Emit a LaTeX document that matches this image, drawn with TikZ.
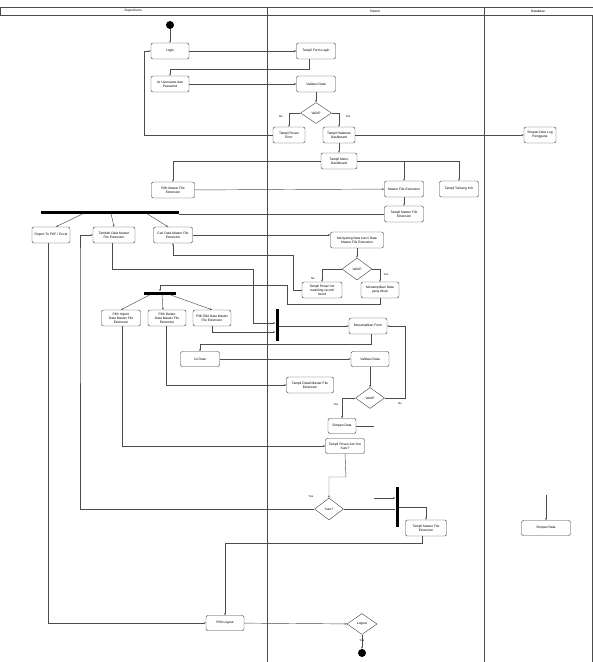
\documentclass[tikz,border=0pt]{standalone}
\usepackage{fontspec}
\setmainfont{Liberation Sans}
\usetikzlibrary{shapes.geometric,arrows.meta}
\begin{document}
\begin{tikzpicture}[x=1pt,y=-1pt,
  every node/.style={font=\fontsize{3.3}{3.9}\selectfont,inner sep=0pt},
  act/.style={draw=black!75,rounded corners=2pt,line width=0.45pt,align=center,fill=white},
  dec/.style={draw=black!75,diamond,aspect=1.45,line width=0.4pt,align=center,fill=white},
  bar/.style={fill=black,draw=none,rectangle},
  ln/.style={draw=black!70,line width=0.45pt},
  arr/.style={ln,-{Stealth[length=2.2pt,width=1.8pt]}},
  lbl/.style={font=\fontsize{2.8}{3.2}\selectfont},
  lane/.style={draw=black!70,line width=0.7pt}]
\useasboundingbox (0,0) rectangle (593,662);
% lanes
\draw[lane,fill=white] (0,7) rectangle (593,15);
\draw[lane] (267,15) -- (267,662);
\draw[lane] (484,7) -- (484,662);
\draw[lane] (267,7) -- (267,15);
\draw[lane] (592.6,15) -- (592.6,662);
\node (h1) at (133,11) {Supervisors};
\node (h2) at (375,11) {Sistem};
\node (h3) at (538,11) {Database};
% nodes
\node[circle,fill=black,minimum size=8pt] (start) at (170,25) {};
\node[act,minimum width=38pt,minimum height=16pt] (login) at (170,51) {Login};
\node[act,minimum width=38pt,minimum height=16pt] (isi) at (170,84) {Isi Username dan\\Password};
\node[act,minimum width=39pt,minimum height=16pt] (formlogin) at (316,51) {Tampil Form Login};
\node[act,minimum width=39pt,minimum height=16pt] (valid1) at (316,84) {Validasi Data};
\node[dec,minimum width=31pt,minimum height=21pt] (d1) at (316,113) {Valid?};
\node[act,minimum width=32pt,minimum height=16pt] (err) at (289,135) {Tampil Pesan\\Error};
\node[act,minimum width=32pt,minimum height=16pt] (dash) at (339,135) {Tampil Halaman\\Dashboard};
\node[act,minimum width=32pt,minimum height=16pt] (log) at (540,135) {Simpan Data Log\\Pengguna};
\node[act,minimum width=36pt,minimum height=16pt] (menu) at (339,161) {Tampil Menu\\Dashboard};
\node[act,minimum width=43pt,minimum height=16pt] (pilihmf) at (173,190) {Pilih Master File\\Extension};
\node[act,minimum width=39pt,minimum height=16pt] (mfe) at (404,189) {Master File Extension};
\node[act,minimum width=39pt,minimum height=16pt] (info) at (459,189) {Tampil Tentang Info};
\node[act,minimum width=39pt,minimum height=16pt] (tmfe) at (404,214) {Tampil Master File\\Extension};
\node[bar,minimum width=138pt,minimum height=3pt] (fork1) at (110,212) {};
\node[act,minimum width=38pt,minimum height=16pt] (report) at (51,235) {Report To PDF / Excel};
\node[act,minimum width=42pt,minimum height=16pt] (tambah) at (114,235) {Tambah Data Master\\File Extension};
\node[act,minimum width=39pt,minimum height=16pt] (cari) at (173,235) {Cari Data Master File\\Extension};
\node[act,minimum width=53pt,minimum height=16pt] (nyaring) at (357,240) {Menyaring Kata kunci Data\\Master File Extension};
\node[dec,minimum width=30pt,minimum height=22pt] (d2) at (357,269) {Valid?};
\node[act,minimum width=40pt,minimum height=16pt] (nomatch) at (322,290) {Tampil Pesan No\\matching record\\found};
\node[act,minimum width=38pt,minimum height=16pt] (found) at (380,290) {Menampilkan Data\\yang dicari};
\node[bar,minimum width=32pt,minimum height=3pt] (fork2) at (160,293) {};
\node[act,minimum width=39pt,minimum height=16pt] (import) at (121,318) {Pilih Import\\Data Master File\\Extension};
\node[act,minimum width=38pt,minimum height=16pt] (delete) at (167,318) {Pilih Delete\\Data Master File\\Extension};
\node[act,minimum width=38pt,minimum height=16pt] (edit) at (212,318) {Pilih Edit Data Master\\File Extension};
\node[bar,minimum width=3pt,minimum height=32pt] (join1) at (277,325) {};
\node[act,minimum width=38pt,minimum height=16pt] (form) at (368,326) {Menampilkan Form};
\node[act,minimum width=39pt,minimum height=15pt] (isidata) at (200,359) {Isi Data};
\node[act,minimum width=38pt,minimum height=15pt] (valid2) at (370,359) {Validasi Data};
\node[act,minimum width=47pt,minimum height=16pt] (detail) at (310,385) {Tampil Detail Master File\\Extension};
\node[dec,minimum width=29pt,minimum height=21pt] (d3) at (370,398) {Valid?};
\node[act,minimum width=28pt,minimum height=15pt] (simpan) at (342,426) {Simpan Data};
\node[act,minimum width=39pt,minimum height=15pt] (sure) at (345,446) {Tampil Pesan Are You\\Sure?};
\node[dec,minimum width=29pt,minimum height=22pt] (d4) at (329,509) {Sure?};
\node[bar,minimum width=3pt,minimum height=40pt] (join2) at (397,507) {};
\node[act,minimum width=41pt,minimum height=16pt] (tmfe2) at (426,528) {Tampil Master File\\Extension};
\node[act,minimum width=49pt,minimum height=15pt] (simpandb) at (546,528) {Simpan Data};
\node[act,minimum width=38pt,minimum height=15pt] (logout) at (225,623) {Pilih Logout};
\node[dec,minimum width=30pt,minimum height=21pt] (d5) at (362,624) {Logout};
\node[circle,fill=black,minimum size=8pt] (end) at (362,653) {};
\coordinate (c1) at (374,498);
\coordinate (c2) at (546,495);
\coordinate (c3) at (374,426);
% connectors
\draw[arr] (start) -- (login);
\draw[arr] (login) -- (formlogin);
\draw[arr] ([xshift=-7pt]formlogin.south) -- ++(0,10) -| (isi.north);
\draw[arr] (isi) -- (valid1);
\draw[arr] (valid1) -- (d1);
\draw[arr] (d1.west) -| (err.north);
\node[lbl] (lno1) at (281,117) {No};
\draw[arr] (d1.east) -| (dash.north);
\node[lbl] (lyes1) at (348,117) {Yes};
\draw[ln] (err.west) -- (144,135) coordinate (e1);
\draw[arr] (e1) |- (login.west);
\draw[arr] (dash) -- (log);
\draw[arr] (dash) -- (menu);
\draw[arr] (menu.west) -| (pilihmf.north);
\draw[arr] (menu.east) -| (info.north);
\draw[arr] (menu.east -| mfe.north) -- (mfe.north);
\draw[arr] (pilihmf) -- (mfe);
\draw[arr] (mfe) -- (tmfe);
\draw[ln] (tmfe.west) -- (tmfe.west -| fork1.east);
\draw[arr] ([xshift=-27pt]fork1.south) -- ([xshift=5pt]report.north);
\draw[arr] ([xshift=1pt]fork1.south) -- (tambah.north);
\draw[arr] ([xshift=37pt]fork1.south) -- ([xshift=-5pt]cari.north);
\draw[arr] (cari.east) -- (cari.east -| nyaring.west);
\draw[arr] (nyaring) -- (d2);
\draw[arr] (d2.west) -| (nomatch.north);
\node[lbl] (lno2) at (313,279) {No};
\draw[arr] (d2.east) -| (found.north);
\node[lbl] (lyes2) at (386,275) {Yes};
\draw[arr] (nomatch.west) -- (293,290) |- (173,255) -- (cari.south);
\draw[arr] (found.south) -- (380,304) -- (287,304) -- (287,285) -| (fork2.north);
\draw[arr] ([xshift=-10pt]fork2.south) -- (import.north);
\draw[arr] ([xshift=2pt]fork2.south) -- ([xshift=-4pt]delete.north);
\draw[arr] ([xshift=10pt]fork2.south) -- (edit.north);
\draw[arr] ([xshift=-2pt]tambah.south) -- (112,269) -- (253,269) |- ([yshift=2pt]join1.west);
\draw[arr] (edit.south) |- ([yshift=-7pt]join1.west);
\draw[arr] ([yshift=-1pt]join1.east) -- ([yshift=-1pt]join1.east -| form.west);
\draw[arr] ([xshift=3pt]form.south) -- ++(0,10) -| (isidata.north);
\draw[arr] (isidata) -- (valid2);
\draw[arr] ([xshift=-1pt]delete.south) |- (detail.west);
\draw[arr] (valid2) -- (d3);
\draw[arr] (d3.east) -- (405,398) |- (form.east);
\node[lbl] (lno3) at (400,404) {No};
\draw[arr] (d3.west) -| (simpan.north);
\node[lbl] (lyes3) at (336,405) {Yes};
\draw[ln] (simpan.east) -- (c3);
\draw[arr] ([xshift=1pt]import.south) |- (sure.west);
\draw[arr] (sure.south) -- (346,477) -| (d4.north);
\draw[arr] (d4.west) -| (80,260) |- (tambah.west);
\node[lbl] (lyes4) at (311,497) {Yes};
\draw[ln] (d4.east) -- (d4.east -| join2.west);
\draw[arr] (c1) -- (c1 -| join2.west);
\draw[arr] (join2.east) -| (tmfe2.north);
\draw[arr] ([xshift=-4pt]tmfe2.south) -- ++(0,7) -| (logout.north);
\draw[arr] ([xshift=-3pt]report.south) |- (logout.west);
\draw[arr] (logout) -- (d5);
\draw[arr] (d5) -- (end);
\node[lbl] (lyes5) at (362,641) {Yes};
\draw[arr] (c2) -- (simpandb.north);
\end{tikzpicture}
\end{document}
